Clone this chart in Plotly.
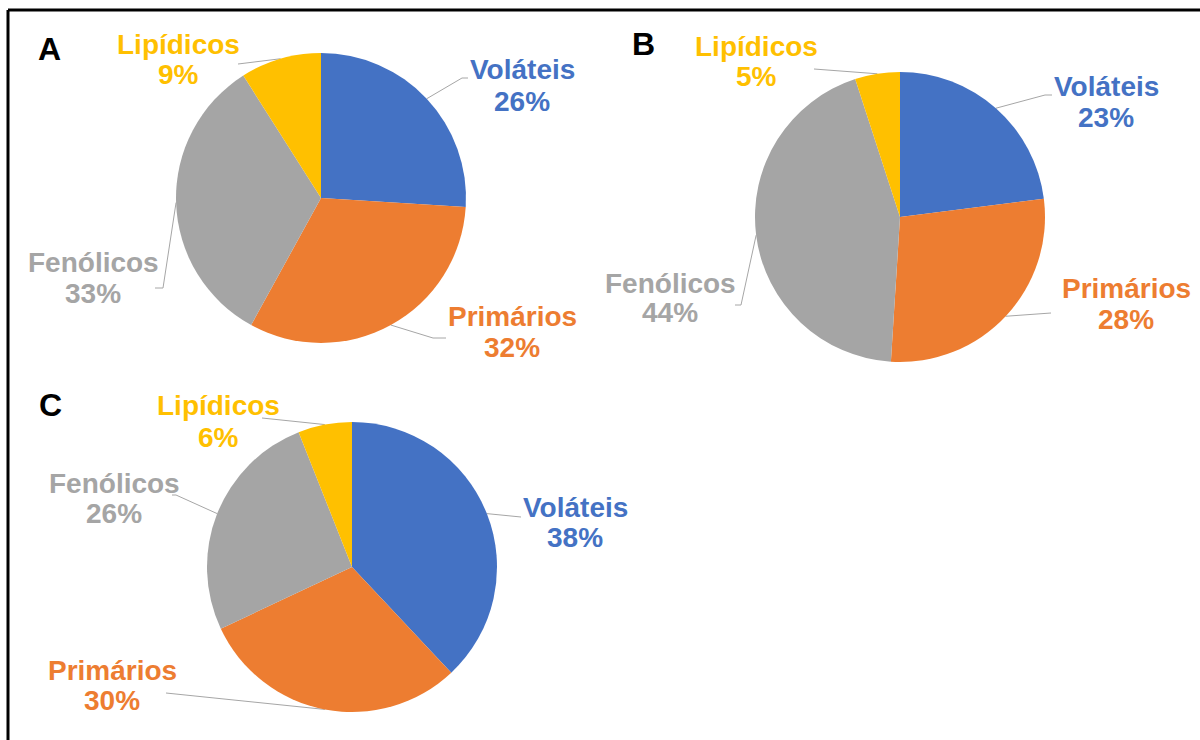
import math
import plotly.graph_objects as go

W, H = 1200, 740

categories = ["Voláteis", "Primários", "Fenólicos", "Lipídicos"]
colors = ["#4472C4", "#ED7D31", "#A5A5A5", "#FFC000"]

panel_a = [26, 32, 33, 9]
panel_b = [23, 28, 44, 5]
panel_c = [38, 30, 26, 6]

# pie geometry in page pixels: (centre x, centre y, radius)
pie_geom = {
    "A": (321, 198, 145),
    "B": (900, 217, 145),
    "C": (352, 567, 145),
}
panel_letter_pos = {"A": (49, 49), "B": (643, 44), "C": (50, 405)}

# label layout per panel: name-line centre (x, y), percent-line y,
# leader elbow and leader end
label_layout = {
    "A": [
        ((522, 69), 101, (462, 78), (468, 78)),
        ((512, 316), 347, (433, 338), (446, 338)),
        ((93, 262), 293, (163, 288), (155, 288)),
        ((178, 44), 74, (242, 64), (238, 64)),
    ],
    "B": [
        ((1106, 86), 117, (1045, 95), (1052, 95)),
        ((1126, 288), 319, (1045, 313), (1051, 313)),
        ((670, 283), 312, (741, 305), (735, 305)),
        ((756, 46), 76, (818, 69), (814, 69)),
    ],
    "C": [
        ((575, 507), 537, (516, 517), (521, 517)),
        ((112, 670), 700, (170, 693), (166, 693)),
        ((114, 483), 513, (176, 495), (172, 495)),
        ((218, 405), 437, (265, 418), (262, 418)),
    ],
}

panels = {"A": panel_a, "B": panel_b, "C": panel_c}

FONT = "Liberation Sans, Arial, sans-serif"
LABEL_SIZE = 28
LEADER = "#A6A6A6"

fig = go.Figure()
annotations = []

for key, values in panels.items():
    cx, cy, r = pie_geom[key]
    fig.add_trace(go.Pie(
        labels=categories,
        values=values,
        sort=False,
        direction="clockwise",
        rotation=0,
        marker=dict(colors=colors, line=dict(width=0)),
        textinfo="none",
        hoverinfo="label+percent",
        showlegend=False,
        domain=dict(
            x=[(cx - r) / W, (cx + r) / W],
            y=[1 - (cy + r) / H, 1 - (cy - r) / H],
        ),
    ))

    total = sum(values)
    cum = 0.0
    for i, v in enumerate(values):
        mid = (cum + v / 2) / total * 2 * math.pi
        cum += v
        sx = cx + r * math.sin(mid)
        sy = cy - r * math.cos(mid)
        (tx, ty), py, elbow, end = label_layout[key][i]
        fig.add_trace(go.Scatter(
            x=[sx, elbow[0], end[0]],
            y=[sy, elbow[1], end[1]],
            mode="lines",
            line=dict(color=LEADER, width=1),
            hoverinfo="skip",
            showlegend=False,
            xaxis="x", yaxis="y",
        ))
        annotations.append(dict(
            x=tx, y=ty, xref="x", yref="y", text=f"<b>{categories[i]}</b>",
            showarrow=False, xanchor="center", yanchor="middle",
            font=dict(family=FONT, size=LABEL_SIZE, color=colors[i]),
        ))
        annotations.append(dict(
            x=tx, y=py, xref="x", yref="y", text=f"<b>{v}%</b>",
            showarrow=False, xanchor="center", yanchor="middle",
            font=dict(family=FONT, size=LABEL_SIZE, color=colors[i]),
        ))

    lx, ly = panel_letter_pos[key]
    annotations.append(dict(
        x=lx, y=ly, xref="x", yref="y", text=f"<b>{key}</b>",
        showarrow=False, xanchor="center", yanchor="middle",
        font=dict(family=FONT, size=32, color="#000000"),
    ))

# frame along the top and left edges
shapes = [
    dict(type="line", xref="x", yref="y", x0=8, y0=10, x1=W, y1=10,
         line=dict(color="#000000", width=3)),
    dict(type="line", xref="x", yref="y", x0=8, y0=10, x1=8, y1=H,
         line=dict(color="#000000", width=3)),
]

fig.update_layout(
    width=W, height=H,
    margin=dict(l=0, r=0, t=0, b=0),
    paper_bgcolor="#FFFFFF",
    plot_bgcolor="rgba(0,0,0,0)",
    xaxis=dict(range=[0, W], visible=False, domain=[0, 1], fixedrange=True),
    yaxis=dict(range=[H, 0], visible=False, domain=[0, 1], fixedrange=True),
    annotations=annotations,
    shapes=shapes,
)

fig.write_html("out.html")
